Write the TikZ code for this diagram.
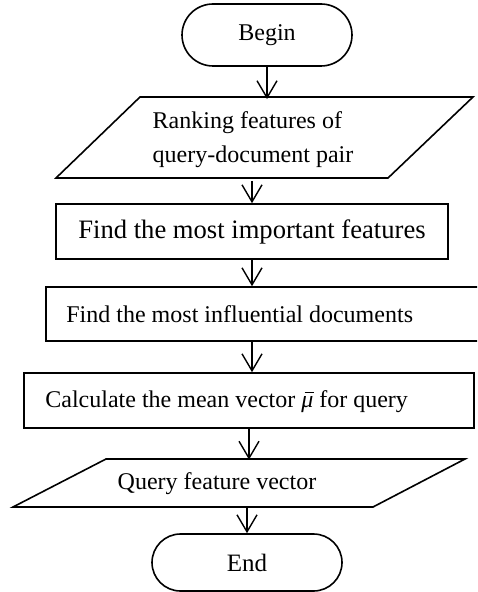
\documentclass[tikz,border=0pt]{standalone}
\usepackage{fontspec}
\setmainfont{Liberation Serif}
\usetikzlibrary{arrows.meta}
\tikzset{
  shp/.style={draw, line width=0.8pt},
  txt/.style={font=\fontsize{12}{17}\selectfont, inner sep=0pt},
  arr/.style={line width=0.7pt, -{Straight Barb[length=8.5pt,width=10pt,line width=0.7pt]}},
}
\newcommand{\mubarglyph}{\textit{\makebox[0pt][l]{\hspace{0.14em}\rule[0.62em]{0.4em}{0.06em}}μ}}
\begin{document}
\begin{tikzpicture}[x=0.5pt,y=-0.5pt]
\clip (0,0) rectangle (477,592);
% Begin
\node[shp, txt, rounded corners=15.5pt, minimum width=85pt, minimum height=31pt] (begin) at (267,35) {Begin};
% parallelogram 1
\node[txt, align=left, minimum height=40.5pt] (p1) at (253,140) {Ranking features of\\query-document pair};
\draw[shp] (140,97) -- (473,97) -- (388,178) -- (56,178) -- cycle;
% rect 1
\node[shp, txt, font=\fontsize{13.3}{16}\selectfont, minimum width=196pt, minimum height=27.5pt] (r1) at (252,231.5) {Find the most important features};
% rect 2
\node[shp, minimum width=217pt, minimum height=27pt, inner sep=0pt] (r2) at (263,314) {};
\node[txt, anchor=west] (r2t) at (66,314) {Find the most influential documents};
% rect 3
\node[shp, minimum width=225pt, minimum height=27.5pt, inner sep=0pt] (r3) at (249,400.5) {};
\node[txt, anchor=west] (r3t) at (45,402) {Calculate the mean vector \mubarglyph\ for query};
% parallelogram 2
\node[txt, minimum height=24pt] (p2) at (217,484) {Query feature vector};
\draw[shp] (106,459) -- (465,459) -- (373,507) -- (13,507) -- cycle;
% End
\node[shp, txt, font=\fontsize{12.5}{15}\selectfont, rounded corners=14.25pt, minimum width=95pt, minimum height=28.5pt] (end) at (247,562.5) {End};
% connectors
\draw[arr] (begin.south) -- (begin.south |- p1.north);
\draw[arr] (r1.north |- p1.south) -- (r1.north);
\draw[arr] (r1.south) -- (r1.south |- r2.north);
\draw[arr] (r1.south |- r2.south) -- (r1.south |- r3.north);
\draw[arr] (r3.south) -- (r3.south |- p2.north);
\draw[arr] (end.north |- p2.south) -- (end.north);
\end{tikzpicture}
\end{document}
